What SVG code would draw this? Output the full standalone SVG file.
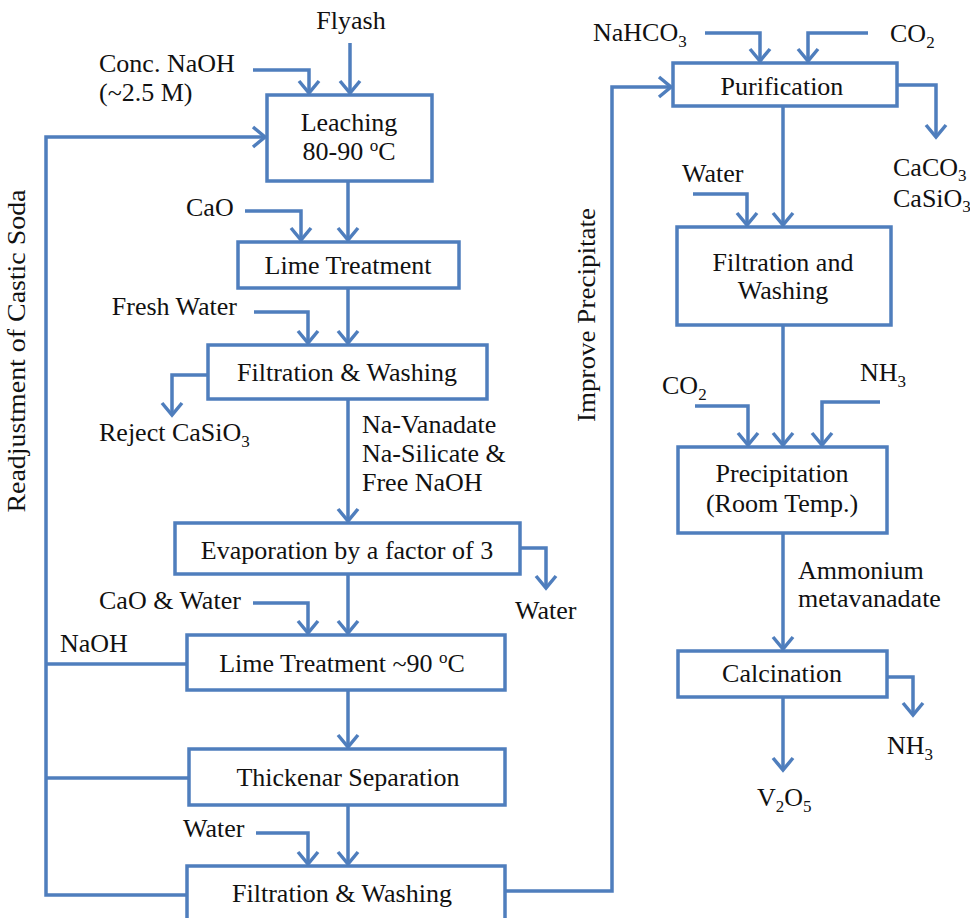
<svg xmlns="http://www.w3.org/2000/svg" width="970" height="918" viewBox="0 0 970 918" font-family="'Liberation Serif', 'DejaVu Serif', 'Times New Roman', serif">
<defs>
<marker id="ah" markerUnits="userSpaceOnUse" markerWidth="30" markerHeight="30" viewBox="-15 -15 30 30" refX="0" refY="0" orient="auto" overflow="visible">
<path d="M-12,-10 L0,0 L-12,10" fill="none" stroke="#4F7EBD" stroke-width="3.5" stroke-linejoin="miter"/>
</marker>
</defs>
<style>
text{font-family:'Liberation Serif','DejaVu Serif','Times New Roman',serif;font-size:26px;fill:#111}
.c{text-anchor:middle}
.e{text-anchor:end}
.box{fill:#fff;stroke:#4F7EBD;stroke-width:3.5}
.ln{fill:none;stroke:#4F7EBD;stroke-width:3.5}
.ar{fill:none;stroke:#4F7EBD;stroke-width:3.5;marker-end:url(#ah)}
.sb{font-size:17px}
</style>
<rect width="970" height="918" fill="#fff"/>
<g id="connectors">
<path class="ar" d="M350,43 V93"/>
<path class="ar" d="M253,70 H309 V93"/>
<path class="ar" d="M348,181 V240"/>
<path class="ar" d="M245,211 H301 V240"/>
<path class="ar" d="M348,288 V343"/>
<path class="ar" d="M254,312 H308 V343"/>
<path class="ar" d="M208,375 H172 V415"/>
<path class="ar" d="M348,399 V521"/>
<path class="ar" d="M520,548 H546 V588"/>
<path class="ar" d="M348,574 V633"/>
<path class="ar" d="M253,603 H308 V633"/>
<path class="ar" d="M348,690 V747"/>
<path class="ar" d="M348,805 V864"/>
<path class="ar" d="M256,833 H308 V864"/>
<path class="ar" d="M187,895 H46 V137 H265"/>
<path class="ln" d="M46,664 H187"/>
<path class="ln" d="M46,778 H189"/>
<path class="ar" d="M505,891 H612 V87 H671"/>
<path class="ar" d="M705,33 H760 V61"/>
<path class="ar" d="M868,33 H808 V61"/>
<path class="ar" d="M897,85 H936 V137"/>
<path class="ar" d="M783,106 V225"/>
<path class="ar" d="M693,194 H747 V225"/>
<path class="ar" d="M783,325 V445"/>
<path class="ar" d="M695,406 H748 V445"/>
<path class="ar" d="M880,402 H822 V445"/>
<path class="ar" d="M783,533 V649"/>
<path class="ar" d="M887,677 H913 V715"/>
<path class="ar" d="M783,697 V770"/>
</g>
<g id="leaching"><rect class="box" x="267" y="95" width="165" height="86"/><text class="c" x="349" y="131">Leaching</text><text class="c" x="349" y="160">80-90 <tspan class="sb" dy="-9">o</tspan><tspan dy="9">C</tspan></text></g>
<g id="lime1"><rect class="box" x="238" y="242" width="221" height="46"/><text class="c" x="348" y="274">Lime Treatment</text></g>
<g id="filt1"><rect class="box" x="208" y="345" width="279" height="54"/><text class="c" x="347" y="381">Filtration &amp; Washing</text></g>
<g id="evap"><rect class="box" x="175" y="523" width="345" height="51"/><text class="c" x="347" y="559">Evaporation by a factor of 3</text></g>
<g id="lime2"><rect class="box" x="187" y="635" width="318" height="55"/><text class="c" x="342" y="672">Lime Treatment ~90 <tspan class="sb" dy="-9">o</tspan><tspan dy="9">C</tspan></text></g>
<g id="thick"><rect class="box" x="189" y="749" width="316" height="56"/><text class="c" x="348" y="786">Thickenar Separation</text></g>
<g id="filt2"><rect class="box" x="187" y="866" width="318" height="70"/><text class="c" x="342" y="902">Filtration &amp; Washing</text></g>
<g id="purif"><rect class="box" x="673" y="63" width="224" height="43"/><text class="c" x="782" y="95">Purification</text></g>
<g id="filt3"><rect class="box" x="677" y="227" width="214" height="98"/><text class="c" x="783" y="271">Filtration and</text><text class="c" x="783" y="299">Washing</text></g>
<g id="precip"><rect class="box" x="678" y="447" width="209" height="86"/><text class="c" x="782" y="482">Precipitation</text><text class="c" x="782" y="512">(Room Temp.)</text></g>
<g id="calc"><rect class="box" x="678" y="651" width="209" height="46"/><text class="c" x="782" y="682">Calcination</text></g>
<g id="labels">
<text class="c" x="351" y="29">Flyash</text>
<text x="99" y="72">Conc. NaOH</text>
<text x="99" y="101">(~2.5 M)</text>
<text x="186" y="216">CaO</text>
<text class="e" x="237" y="315">Fresh Water</text>
<text x="99" y="441">Reject CaSiO<tspan class="sb" dy="6">3</tspan></text>
<text x="362" y="433">Na-Vanadate</text>
<text x="362" y="462">Na-Silicate &amp;</text>
<text x="362" y="491">Free NaOH</text>
<text x="515" y="619">Water</text>
<text x="99" y="609">CaO &amp; Water</text>
<text x="60" y="652">NaOH</text>
<text x="183" y="837">Water</text>
<text class="c" x="25" y="351" transform="rotate(-90 25 351)" textLength="323" lengthAdjust="spacingAndGlyphs">Readjustment of Castic Soda</text>
<text class="c" x="595" y="315" transform="rotate(-90 595 315)" textLength="214" lengthAdjust="spacingAndGlyphs">Improve Precipitate</text>
<text x="593" y="41">NaHCO<tspan class="sb" dy="6">3</tspan></text>
<text x="890" y="42">CO<tspan class="sb" dy="6">2</tspan></text>
<text x="893" y="176">CaCO<tspan class="sb" dy="5">3</tspan></text>
<text x="893" y="207">CaSiO<tspan class="sb" dy="5">3</tspan></text>
<text x="682" y="182">Water</text>
<text x="662" y="394">CO<tspan class="sb" dy="6">2</tspan></text>
<text x="860" y="381">NH<tspan class="sb" dy="6">3</tspan></text>
<text x="798" y="579">Ammonium</text>
<text x="798" y="607">metavanadate</text>
<text x="887" y="754">NH<tspan class="sb" dy="6">3</tspan></text>
<text x="757" y="806">V<tspan class="sb" dy="6">2</tspan><tspan dy="-6">O</tspan><tspan class="sb" dy="6">5</tspan></text>
</g>
</svg>
